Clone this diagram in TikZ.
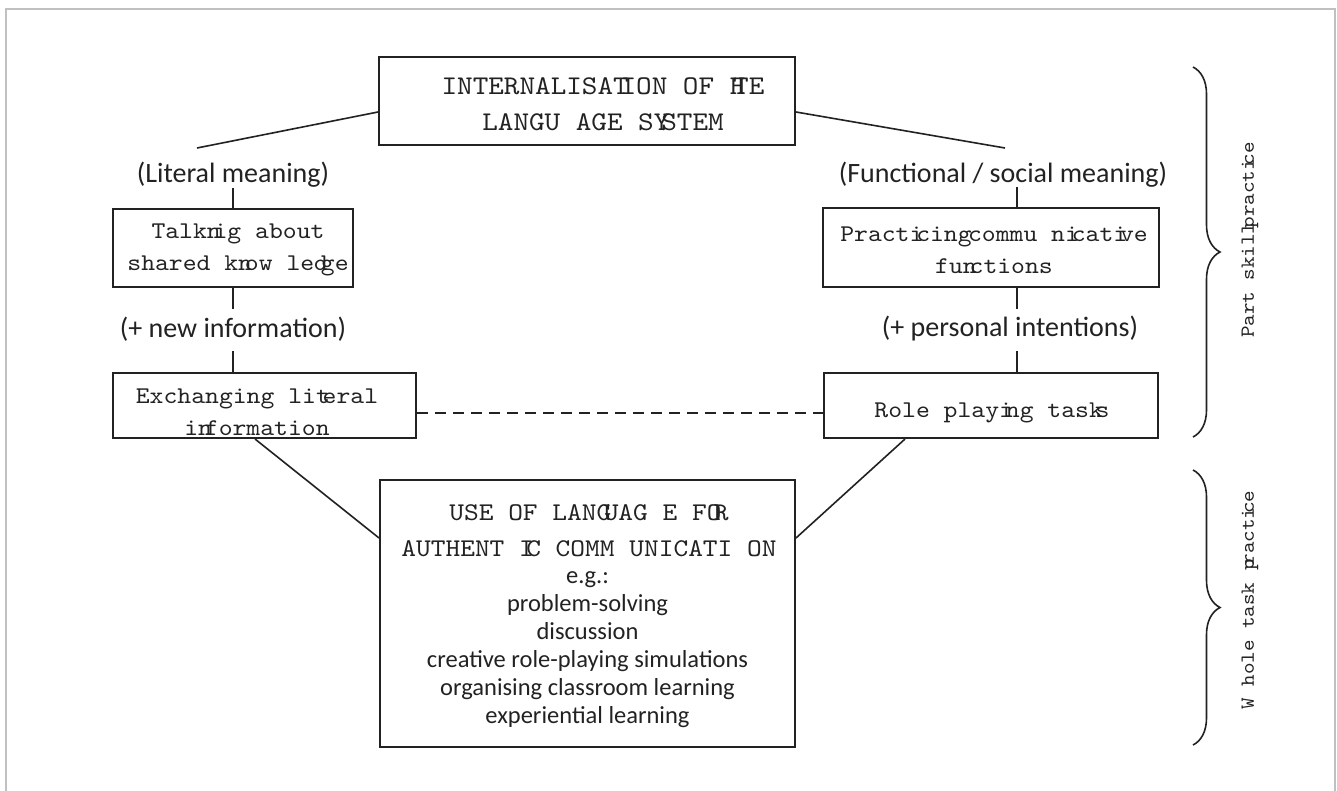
\documentclass[tikz,border=0pt]{standalone}
\usepackage{fontspec}
\setmainfont{Carlito}
\newfontfamily\monofam{lmmono10-regular.otf}[FakeStretch=1.1]
\usetikzlibrary{decorations.pathreplacing,calc}
\newcommand{\ovl}[2]{#1\kern-0.3em #2}
\newcommand{\ovh}[2]{#1\kern-0.45em #2}
\definecolor{framegray}{HTML}{C0C0C0}
\definecolor{ink}{HTML}{222222}
\begin{document}
\begin{tikzpicture}[x=1pt,y=-1pt,
  box/.style={draw=ink, line width=2pt, inner sep=0pt, align=center},
  bigmono/.style={font=\monofam\fontsize{27}{36}\selectfont, text=ink, align=center, inner sep=0pt},
  usemono/.style={font=\monofam\fontsize{25.5}{36}\selectfont, text=ink, align=center, inner sep=0pt},
  midmono/.style={font=\monofam\fontsize{24}{32}\selectfont, text=ink, align=center, inner sep=0pt},
  sidemono/.style={font=\monofam\fontsize{20}{24}\selectfont, text=ink, rotate=90, inner sep=0pt},
  lbl/.style={font=\fontsize{28}{30}\selectfont, text=ink, inner sep=0pt, align=center},
  lst/.style={font=\fontsize{24.5}{28}\selectfont, text=ink, inner sep=0pt, align=center},
  conn/.style={draw=ink, line width=1.6pt},
  brc/.style={draw=ink, line width=1.6pt, decorate, decoration={brace, amplitude=27pt}}]
\useasboundingbox (0,0) rectangle (1337,790);
\fill[white] (0,0) rectangle (1337,790);
\draw[framegray, line width=2.2pt] (6,9) rectangle (1335,820);

% boxes
\node[box, minimum width=416pt, minimum height=88pt] (top) at (587,101) {};
\node[bigmono] (toptxt) at (603,104) {INTERNALISA\ovl{T}{I}ON OF  \ovh{H}{T}E\\LANGU AGE  S\ovl{Y}{S}TEM};

\node[box, minimum width=240pt, minimum height=78pt] (talk) at (233,248) {};
\node[midmono] (talktxt) at (238,250) {Talk\ovl{n}{i}g about\\shared k\ovl{n}{o}w le\ovl{d}{g}e};

\node[box, minimum width=336pt, minimum height=79pt] (prac) at (991,247.5) {};
\node[midmono] (practxt) at (994,250) {Pract\ovl{i}{c}ing\kern-0.15em commu n\ovl{i}{c}at\ovl{i}{v}e\\fu\ovl{n}{c}tions};

\node[box, minimum width=303pt, minimum height=65pt] (exch) at (264.5,405.5) {};
\node[midmono] (exchtxt) at (257,412) {Exchanging li\ovl{t}{e}ral\\i\ovl{n}{f}ormation};

\node[box, minimum width=334pt, minimum height=65pt] (role) at (991,405.5) {};
\node[midmono] (roletxt) at (992,413) {Role play\ovl{i}{n}g tas\ovl{k}{s}};

\node[box, minimum width=415pt, minimum height=267pt] (use) at (587.5,613.5) {};
\node[usemono] (usetxt) at (589,531) {USE  OF  LAN\ovl{G}{U}AG E  F\ovl{O}{R}\\AUTHENT \ovl{I}{C} COMM UNICATI ON};
\node[lst] (egtxt) at (587.5,650) {e.g.:\\problem-solving\\discussion\\creative role-playing simulations\\organising classroom learning\\experiential learning};

% labels
\node[lbl, anchor=south] (lit) at (233,188) {(Literal meaning)};
\node[lbl, anchor=south] (func) at (1003,188) {(Functional / social meaning)};
\node[lbl] (newinf) at (233,329) {(+ new information)};
\node[lbl] (pers) at (1010,329) {(+ personal intentions)};

% connectors
\coordinate (tl) at (197,148);
\coordinate (tr) at (1005,148);
\draw[conn] ([yshift=-11pt]top.west) -- (tl);
\draw[conn] ([yshift=-11pt]top.east) -- (tr);

\draw[conn] (lit.south) -- (talk.north);
\draw[conn] (talk.south) -- ++(0,21);
\draw[conn] (exch.north -| talk.south) -- ++(0,-21);

\draw[conn] ([xshift=26pt]prac.north) -- ++(0,-20);
\draw[conn] ([xshift=26pt]prac.south) -- ++(0,21);
\draw[conn] ([xshift=26pt]role.north) -- ++(0,-21);

\draw[conn, dash pattern=on 11pt off 7pt] ([yshift=-7.5pt]exch.east) -- ([yshift=-7.5pt]role.west);

\draw[conn] ([xshift=-9.5pt]exch.south) -- ([yshift=75.5pt]use.west);
\draw[conn] ([xshift=-86pt]role.south) -- ([yshift=75.5pt]use.east);

% braces
\coordinate (b1t) at (1193,67);
\coordinate (b1b) at (1193,437);
\coordinate (b2t) at (1193,470);
\coordinate (b2b) at (1193,745);
\draw[brc] (b1t) -- (b1b);
\draw[brc] (b2t) -- (b2b);
\node[sidemono] (part) at (1250,240) {Part  skil\ovl{l}{p}ract\ovl{i}{c}e};
\node[sidemono] (whole) at (1250,600) {W hole task \ovl{p}{r}act\ovl{i}{c}e};
\end{tikzpicture}
\end{document}
